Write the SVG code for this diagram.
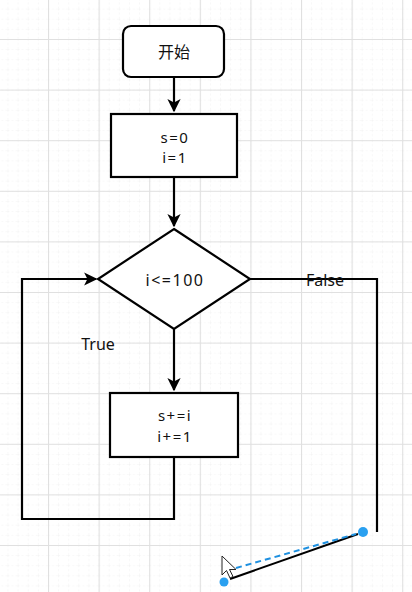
<svg xmlns="http://www.w3.org/2000/svg" width="412" height="592" viewBox="0 0 412 592">
<defs>
<pattern id="minor" width="10.12" height="10.12" patternUnits="userSpaceOnUse" x="-2.6" y="-1.5">
<path d="M0 0H10.12M0 0V10.12" fill="none" stroke="#f1f1f1" stroke-width="1" stroke-dasharray="2 2"/>
</pattern>
<pattern id="major" width="50.6" height="50.6" patternUnits="userSpaceOnUse" x="-2.6" y="-11.6">
<path d="M0 0.5H50.6M0.5 0V50.6" fill="none" stroke="#e0e0e0" stroke-width="1.2"/>
</pattern>
<marker id="arr" viewBox="0 0 10 10" refX="9" refY="5" markerWidth="6" markerHeight="6" orient="auto" markerUnits="strokeWidth">
<path d="M0 0L10 5L0 10L2.5 5Z" fill="#000"/>
</marker>
<style>
.shape{fill:#fff;stroke:#000;stroke-width:2.2}
.edge{fill:none;stroke:#000;stroke-width:2.2}
.t{font-family:"Noto Sans","Open Sans","Noto Sans CJK SC",sans-serif;font-size:16px;fill:#111;text-anchor:middle}
.m{letter-spacing:1.5px}
.s{font-size:15px}
.cjk{font-family:"Noto Sans CJK SC","Noto Sans",sans-serif}
</style>
</defs>
<rect width="412" height="592" fill="#fff"/>
<rect width="412" height="592" fill="url(#minor)"/>
<rect width="412" height="592" fill="url(#major)"/>

<g id="edges">
<path class="edge" d="M174 77V111" marker-end="url(#arr)"/>
<path class="edge" d="M174 177V226" marker-end="url(#arr)"/>
<path class="edge" d="M174 329V390" marker-end="url(#arr)"/>
<path class="edge" d="M174 457V519H22V279H96" marker-end="url(#arr)"/>
<path class="edge" d="M249 279H377V532"/>
<text class="t" x="325" y="286">False</text>
<text class="t" x="98" y="350">True</text>
</g>

<g id="start">
<rect class="shape" x="123" y="26" width="101" height="51" rx="8"/>
<text class="t cjk" x="174" y="57.5">开始</text>
</g>
<g id="init">
<rect class="shape" x="111" y="114" width="126" height="63"/>
<text class="t m s" x="175" y="142.5">s=0</text>
<text class="t m s" x="175" y="163">i=1</text>
</g>
<g id="cond">
<polygon class="shape" points="174,229 250,279 174,329 98,279"/>
<text class="t m" x="175" y="285.5">i&lt;=100</text>
</g>
<g id="body">
<rect class="shape" x="110" y="393" width="128" height="64"/>
<text class="t m s" x="175" y="421">s+=i</text>
<text class="t m s" x="175" y="441.5">i+=1</text>
</g>

<g id="drawing">
<line x1="230" y1="579" x2="358" y2="534" stroke="#000" stroke-width="2"/>
<line x1="236" y1="568" x2="356" y2="534" stroke="#1e90e0" stroke-width="2" stroke-dasharray="6 4"/>
<circle cx="363" cy="532" r="5" fill="#2aa0f0"/>
<circle cx="224" cy="582" r="4.5" fill="#2aa0f0"/>
<path d="M222 556V575L226.5 570.5L230 578L233 576.5L229.5 569.5L236 569.5Z" fill="#fff" stroke="#222" stroke-width="1"/>
</g>
</svg>
